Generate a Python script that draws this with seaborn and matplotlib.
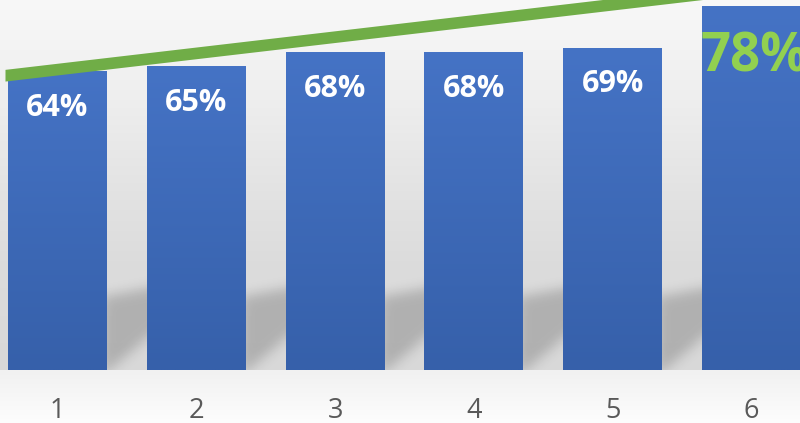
import numpy as np
import pandas as pd
import matplotlib
matplotlib.use("Agg")
import matplotlib.pyplot as plt
import seaborn as sns
from matplotlib.path import Path
from matplotlib.colors import LinearSegmentedColormap

# ---- data -------------------------------------------------------------
weeks = ["1", "2", "3", "4", "5", "6"]
rates = [64, 65, 68, 68, 69, 78]
trend_x = [-0.378, 5.35]
trend_y = [63.1, 83.0]

# ---- canvas -----------------------------------------------------------
W, H, DPI = 800, 423, 100
FLOOR_PX = 53            # height of the floor strip under the bars
XLIM = (-0.414, 5.349)
YLIM = (0, 79.2)

sns.set_theme(style="white")
plt.rcParams["font.family"] = ["Open Sans", "DejaVu Sans"]

fig = plt.figure(figsize=(W / DPI, H / DPI), dpi=DPI)

# wall + floor backdrop
bg = fig.add_axes([0, 0, 1, 1], zorder=0)
bg.set_axis_off()
rows = np.arange(H)
wall_row = H - FLOOR_PX
wall = np.interp(rows, [0, 100, 200, 260, wall_row], [248, 238, 226, 220, 216])
floor = np.interp(rows, [wall_row, H], [241, 253])
shade = np.where(rows < wall_row, wall, floor) / 255.0
bg_img = np.dstack([np.repeat(shade[:, None], 4, axis=1)] * 3)
bg.imshow(bg_img, aspect="auto", extent=[0, 1, 0, 1], interpolation="nearest")
bg.set_xlim(0, 1)
bg.set_ylim(0, 1)

# main axes
ax = fig.add_axes([0, FLOOR_PX / H, 1, (H - FLOOR_PX) / H], zorder=1)
ax.patch.set_alpha(0)

df = pd.DataFrame({"week": weeks, "rate": rates})
sns.barplot(data=df, x="week", y="rate", ax=ax, width=0.713,
            color="#4472c4", saturation=1, zorder=3,
            linewidth=0, edgecolor="none")

ax.set_xlim(*XLIM)
ax.set_ylim(*YLIM)

# vertical gradient inside each bar
bar_cmap = LinearSegmentedColormap.from_list("bar", ["#3660aa", "#4573c5"])
grad = np.linspace(1, 0, 256)[:, None]
bars = list(ax.patches)
for p in bars:
    x0, w, h = p.get_x(), p.get_width(), p.get_height()
    im = ax.imshow(grad, cmap=bar_cmap, vmin=0, vmax=1, aspect="auto",
                   extent=[x0, x0 + w, 0, h], zorder=3.1,
                   interpolation="bilinear")
    im.set_clip_path(p)

# soft cast shadows behind the bars
AH = H - FLOOR_PX
pad = 30
yy, xx = np.mgrid[-pad:AH + pad, -pad:W + pad]
pts = np.column_stack([xx.ravel() + 0.5, yy.ravel() + 0.5])
mask = np.zeros(xx.size)
for p in bars:
    xr = (p.get_x() + p.get_width() - XLIM[0]) / (XLIM[1] - XLIM[0]) * W
    poly = Path([(xr - 5, AH + 6), (xr - 5, 297), (xr + 95, 278),
                 (xr + 95, 292), (xr - 5, AH + 6)])
    mask = np.maximum(mask, poly.contains_points(pts).astype(float))
mask = mask.reshape(xx.shape)
sig = 6.0
k = np.arange(-20, 21)
kern = np.exp(-k ** 2 / (2 * sig ** 2))
kern /= kern.sum()
mask = np.apply_along_axis(lambda r: np.convolve(r, kern, mode="same"), 1, mask)
mask = np.apply_along_axis(lambda c: np.convolve(c, kern, mode="same"), 0, mask)
mask = mask[pad:pad + AH, pad:pad + W]
shadow = np.zeros((AH, W, 4))
shadow[..., 3] = mask * 0.19
ax.imshow(shadow, aspect="auto", extent=[XLIM[0], XLIM[1], YLIM[0], YLIM[1]],
          zorder=2, interpolation="nearest")

ax.set_xlim(*XLIM)
ax.set_ylim(*YLIM)

# rising trend stroke, drawn as a filled band so it keeps its full
# thickness where it runs off the top edge of the figure
stroke_px = 11.7
px_per_unit = (H - FLOOR_PX) / (YLIM[1] - YLIM[0])
half = stroke_px / 2 / px_per_unit
ty = np.asarray(trend_y)
ax.fill_between(trend_x, ty - half, ty + half, color="#70ad47", lw=0,
                zorder=5, clip_on=False)

# value labels
for i, (p, v) in enumerate(zip(bars, rates)):
    cx = p.get_x() + p.get_width() / 2
    if i == len(rates) - 1:
        ax.annotate(f"{v}%", (cx, v), xytext=(3, -66), textcoords="offset pixels",
                    ha="center", va="baseline", fontsize=38, fontweight="bold",
                    color="#92d050", zorder=6)
    else:
        ax.annotate(f"{v}%", (cx, v), xytext=(0, -44.5), textcoords="offset pixels",
                    ha="center", va="baseline", fontsize=22, fontweight="bold",
                    color="white", zorder=6)

# axis cosmetics
sns.despine(ax=ax, left=True, bottom=True)
ax.set_xlabel("")
ax.set_ylabel("")
ax.set_yticks([])
ax.tick_params(axis="x", length=0, pad=19.5, labelsize=19.5, labelcolor="#595959")

fig.savefig("out.png", dpi=DPI)
